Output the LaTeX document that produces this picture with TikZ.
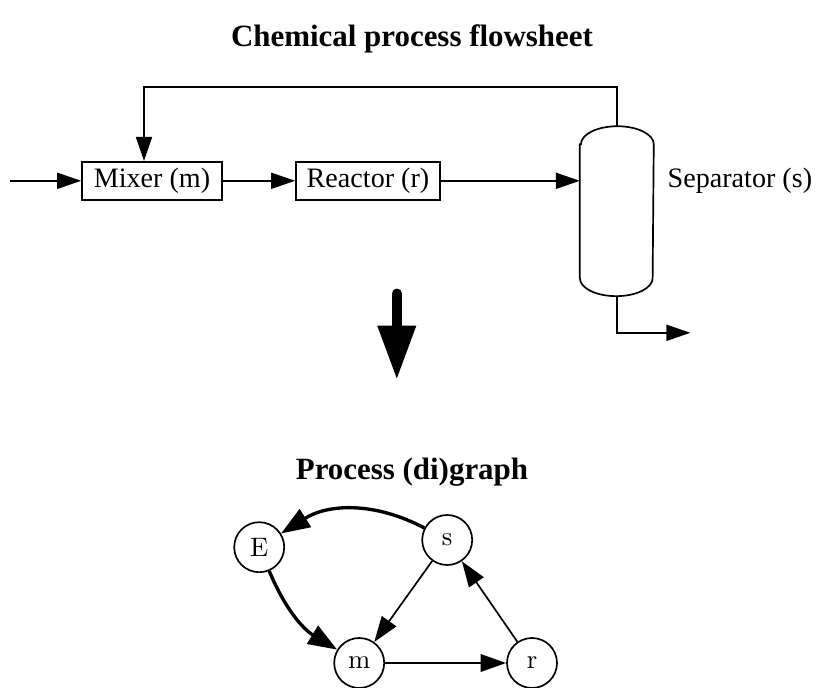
\documentclass[tikz,border=0pt]{standalone}
\usepackage{fontspec}
\usepackage{tikz}
\usetikzlibrary{arrows.meta,positioning,calc}
\newfontfamily\flowfont{Liberation Serif}

\begin{document}
\begin{tikzpicture}[every node/.style={font=\flowfont\fontsize{10}{12}\selectfont},
    unit/.style={draw,line width=0.6pt,minimum height=0.475cm,inner sep=0pt},
    flow/.style={line width=0.6pt,-{Triangle[length=0.3cm,width=0.2cm]}},
    vertex/.style={draw,circle,line width=0.6pt,minimum size=0.625cm,inner sep=0pt,
                   font=\fontsize{9.5}{11}\selectfont},
    edge/.style={line width=0.6pt,-{Triangle[length=0.32cm,width=0.22cm]}},
    boldedge/.style={line width=1.2pt,-{Triangle[length=0.36cm,width=0.26cm]}}]
  \useasboundingbox (0,0) rectangle (10.3,8.6);

  \node (title1) at (5.15,8.11) {\bfseries\fontsize{11}{13}\selectfont Chemical process flowsheet};
  \node[unit,minimum width=1.75cm] (mixer) at (1.9,6.34) {Mixer (m)};
  \node[unit,minimum width=1.8cm] (reactor) at (4.6,6.34) {Reactor (r)};
  \node[minimum width=0.91cm,minimum height=2.11cm,inner sep=0pt] (sep) at (7.71,5.96) {};
  \node[right=0.05cm of sep,yshift=0.38cm] (seplabel) {Separator (s)};
  \coordinate (feed) at (0.12,6.34);
  \coordinate (product) at (8.63,4.44);

  \draw[line width=0.6pt] ([yshift=-0.225cm]sep.north west) -- ([yshift=0.225cm]sep.south west)
      arc[start angle=180,end angle=360,x radius=0.455cm,y radius=0.225cm]
      -- ([yshift=-0.225cm]sep.north east)
      arc[start angle=0,end angle=180,x radius=0.455cm,y radius=0.225cm] -- cycle;

  \draw[flow] (feed) -- (mixer.west);
  \draw[flow] (mixer.east) -- (reactor.west);
  \draw[flow] (reactor.east) -- (reactor.east -| sep.west);
  \draw[flow] (sep.north) -- ++(0,0.49) -| ([xshift=-0.1cm]mixer.north);
  \draw[flow] (sep.south) |- (product);

  \coordinate (bigtop) at (4.96,4.93);
  \coordinate (bigtip) at (4.96,3.85);
  \draw[line width=3.6pt,line cap=round,-{Triangle[length=0.68cm,width=0.45cm]}] (bigtop) -- (bigtip);

  \node (title2) at (5.15,2.7) {\bfseries\fontsize{11}{13}\selectfont Process (di)graph};
  \node[vertex] (E) at (3.24,1.76) {E};
  \node[vertex] (s) at (5.59,1.85) {s};
  \node[vertex] (m) at (4.49,0.3125) {m};
  \node[vertex] (r) at (6.65,0.3125) {r};
  \draw[boldedge] (s) to[bend right=30] (E);
  \draw[boldedge] (E) to[bend right=18] (m);
  \draw[edge] (s) -- (m);
  \draw[edge] (m) -- (r);
  \draw[edge] (r) -- (s);
\end{tikzpicture}
\end{document}
